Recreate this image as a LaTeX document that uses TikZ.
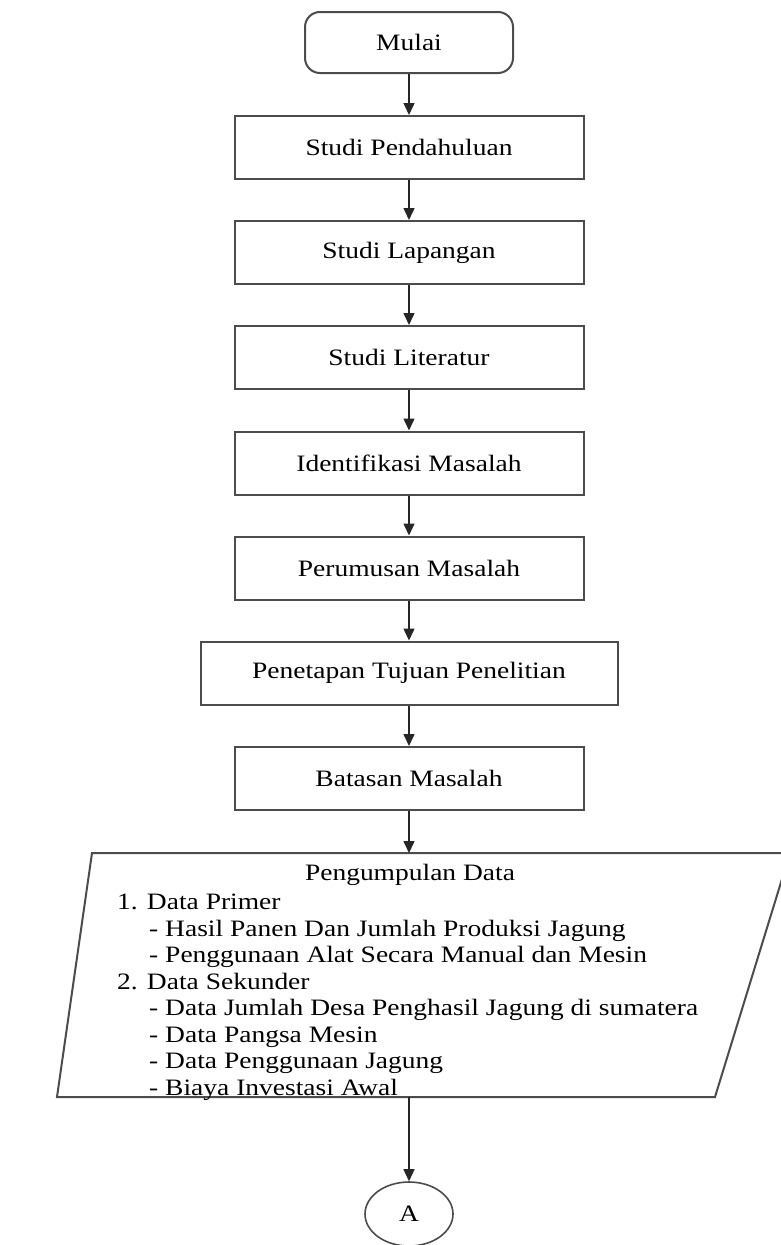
\documentclass[tikz,border=0pt]{standalone}
\usepackage{fontspec}
\setmainfont{Liberation Serif}[FakeStretch=1.17]
\usetikzlibrary{arrows.meta,shapes.geometric}

\begin{document}
\begin{tikzpicture}[x=1pt, y=-1pt,
	kotak/.style = {draw=black!70, line width=2pt, minimum width=349pt, minimum height=63pt, font=\fontsize{23.5}{26.5}\selectfont},
	teks/.style = {font=\fontsize{23.5}{26.5}\selectfont},
	panah/.style = {draw=black!85, line width=1.5pt, -{Triangle[length=12pt,width=11pt]}}]
	\useasboundingbox (0,0) rectangle (781,1245);
	\node [kotak, rounded corners=15pt, minimum width=208pt, minimum height=61pt] (mulai) at (409,42.5) {Mulai};
	\node [kotak] (pendahuluan) at (409,147.5) {Studi Pendahuluan};
	\node [kotak] (lapangan) at (409,252.5) {Studi Lapangan};
	\node [kotak] (literatur) at (409,357.5) {Studi Literatur};
	\node [kotak] (identifikasi) at (409,463) {Identifikasi Masalah};
	\node [kotak] (perumusan) at (409,568) {Perumusan Masalah};
	\node [kotak, minimum width=417pt] (tujuan) at (409,673) {Penetapan Tujuan Penelitian};
	\node [kotak] (batasan) at (409,778.5) {Batasan Masalah};
	% pengumpulan data
	\draw [draw=black!70, line width=2pt] (92,853) -- (790,853) -- (715,1097) -- (57,1097) -- cycle;
	\coordinate (dataatas) at (409,853);
	\coordinate (databawah) at (409,1097);
	\node [teks] (judul) at (410,875) {Pengumpulan Data};
	\node [teks, anchor=north west, align=left, inner sep=0pt] (isi) at (117,894) {1. Data Primer\\
		\hspace*{32pt}- Hasil Panen Dan Jumlah Produksi Jagung\\
		\hspace*{32pt}- Penggunaan Alat Secara Manual dan Mesin\\
		2. Data Sekunder\\
		\hspace*{32pt}- Data Jumlah Desa Penghasil Jagung di sumatera\\
		\hspace*{32pt}- Data Pangsa Mesin\\
		\hspace*{32pt}- Data Penggunaan Jagung\\
		\hspace*{32pt}- Biaya Investasi Awal};
	\node [teks, draw=black!70, line width=1.6pt, ellipse, minimum width=88pt, minimum height=64pt] (A) at (409,1214) {A};
	% panah
	\draw [panah] (mulai) -- (pendahuluan);
	\draw [panah] (pendahuluan) -- (lapangan);
	\draw [panah] (lapangan) -- (literatur);
	\draw [panah] (literatur) -- (identifikasi);
	\draw [panah] (identifikasi) -- (perumusan);
	\draw [panah] (perumusan) -- (tujuan);
	\draw [panah] (tujuan) -- (batasan);
	\draw [panah] (batasan) -- (dataatas);
	\draw [panah] (databawah) -- (A);
\end{tikzpicture}
\end{document}
